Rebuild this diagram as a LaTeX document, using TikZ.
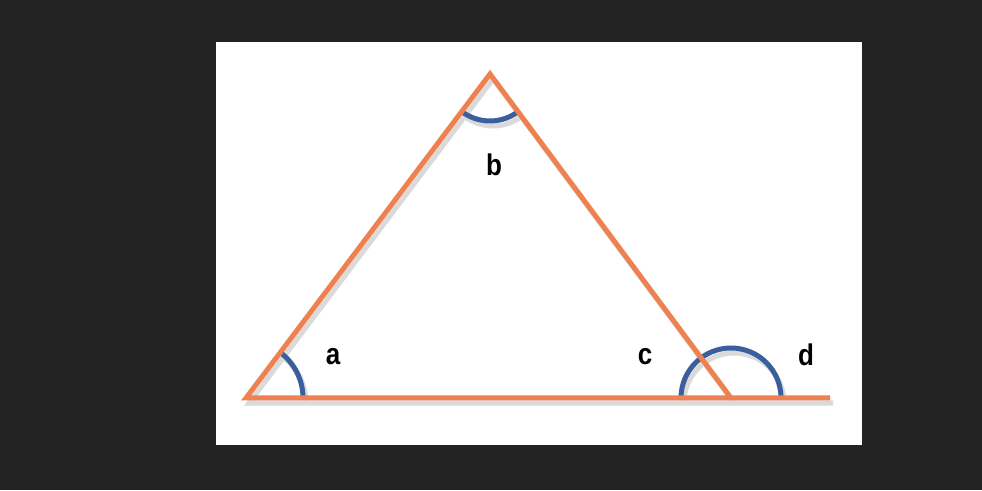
\documentclass[tikz,border=0pt]{standalone}
\usepackage{fontspec}
\setmainfont{Liberation Sans}
\definecolor{bgdark}{HTML}{232323}
\definecolor{edgeorange}{HTML}{EF8150}
\definecolor{arcblue}{HTML}{3A5F9C}
\definecolor{shadowgray}{HTML}{DADADA}
\begin{document}
\begin{tikzpicture}[x=1pt,y=1pt,
  edge/.style={draw=edgeorange,line width=5pt,line cap=butt,line join=miter},
  anglearc/.style={draw=arcblue,line width=5pt},
  shadowline/.style={draw=shadowgray,line width=5pt,line join=miter},
  lbl/.style={font=\bfseries\fontsize{26}{26}\selectfont,inner sep=0pt}]
\useasboundingbox (0,0) rectangle (982,490);
\fill[bgdark] (0,0) rectangle (982,490);
\fill[white] (216,45) rectangle (862,448);
\coordinate (A) at (246,92);
\coordinate (B) at (490,416);
\coordinate (C) at (731,92);
\coordinate (E) at (830,92);
% shadow copies of the vertices
\coordinate (As) at ([shift={(3,-5)}]A);
\coordinate (Bs) at ([shift={(3,-5)}]B);
\coordinate (Cs) at ([shift={(3,-5)}]C);
\coordinate (Es) at ([shift={(3,-5)}]E);
% shadow
\draw[shadowline] (Es) -- (As) -- (Bs) -- (Cs);
\draw[shadowline] ([shift={(57,0)}]As) arc[start angle=0,end angle=53,radius=57];
\draw[shadowline] ([shift={(233:47)}]Bs) arc[start angle=233,end angle=306.6,radius=47];
\draw[shadowline] ([shift={(50,0)}]Cs) arc[start angle=0,end angle=180,radius=50];
% angle arcs
\draw[anglearc] ([shift={(57,0)}]A) arc[start angle=0,end angle=53,radius=57];
\draw[anglearc] ([shift={(233:47)}]B) arc[start angle=233,end angle=306.6,radius=47];
\draw[anglearc] ([shift={(50,0)}]C) arc[start angle=0,end angle=180,radius=50];
% triangle and extension
\draw[edge] (E) -- (A) -- (B) -- (C);
% labels
\node[lbl] (la) at (333,133) {\scalebox{1}[1.15]{a}};
\node[lbl] (lb) at (494,325) {\scalebox{1}[1.15]{b}};
\node[lbl] (lc) at (645,133) {\scalebox{1}[1.15]{c}};
\node[lbl] (ld) at (806,135) {\scalebox{1}[1.15]{d}};
\end{tikzpicture}
\end{document}
